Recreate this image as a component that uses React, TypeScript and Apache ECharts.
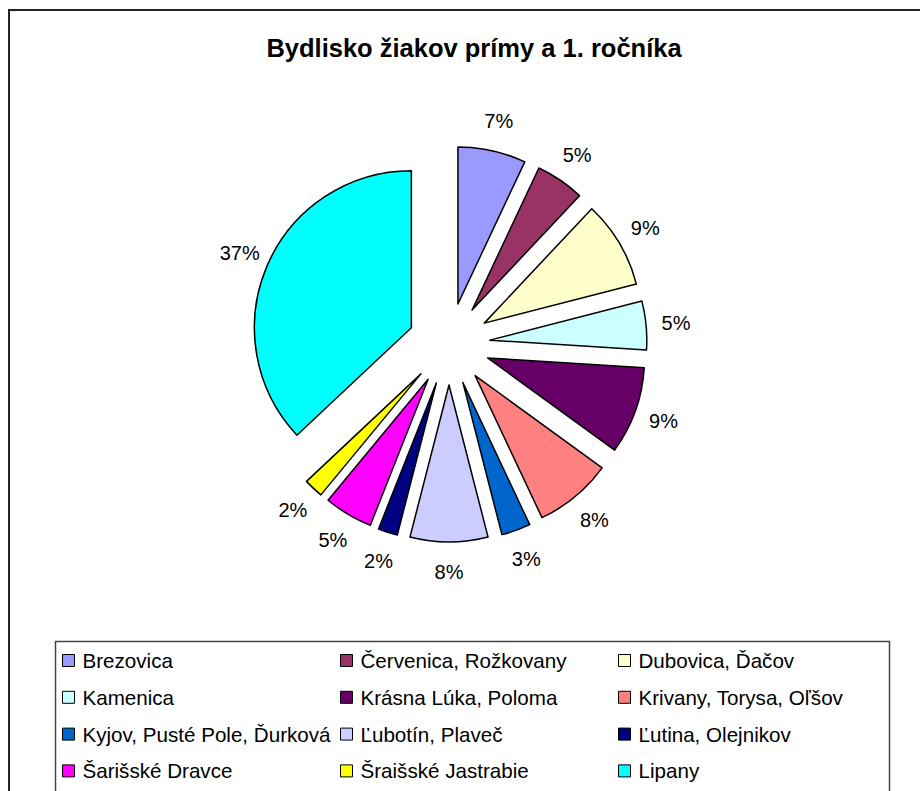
import React, { useEffect, useRef } from 'react';
import * as echarts from 'echarts';

const chartTitle = 'Bydlisko žiakov prímy a 1. ročníka';
const categories = [
  'Brezovica',
  'Červenica, Rožkovany',
  'Dubovica, Ďačov',
  'Kamenica',
  'Krásna Lúka, Poloma',
  'Krivany, Torysa, Oľšov',
  'Kyjov, Pusté Pole, Ďurková',
  'Ľubotín, Plaveč',
  'Ľutina, Olejnikov',
  'Šarišské Dravce',
  'Šraišské Jastrabie',
  'Lipany',
];
const shares = [7, 5, 9, 5, 9, 8, 3, 8, 2, 5, 2, 37];
const colors = [
  '#9999FF', '#993366', '#FFFFCC', '#CCFFFF', '#660066', '#FF8080',
  '#0066CC', '#CCCCFF', '#000080', '#FF00FF', '#FFFF00', '#00FFFF',
];
const legendColumns = [
  [0, 3, 6, 9],
  [1, 4, 7, 10],
  [2, 5, 8, 11],
];

const FONT = '"Liberation Sans", Arial, sans-serif';

export default function App() {
  const ref = useRef<HTMLDivElement>(null);
  useEffect(() => {
    if (!ref.current) return;
    const chart = echarts.init(ref.current, null, { renderer: 'svg' });
    const center = [449, 344];
    const legendLefts = [62, 340, 618];
    const option: any = {
      animation: false,
      backgroundColor: '#fff',
      title: {
        text: chartTitle,
        left: 469,
        top: 30,
        textAlign: 'center',
        textStyle: { fontFamily: FONT, fontWeight: 'bold', fontSize: 25.5, color: '#000' },
      },
      legend: legendColumns.map((col, ci) => ({
        orient: 'vertical',
        left: legendLefts[ci],
        top: 650,
        padding: 0,
        itemGap: 15.8,
        itemWidth: 12,
        itemHeight: 12,
        icon: 'rect',
        selectedMode: false,
        data: col.map((i) => categories[i]),
        itemStyle: { borderColor: '#000', borderWidth: 1 },
        textStyle: {
          fontFamily: FONT,
          fontSize: 20.6,
          lineHeight: 20,
          color: '#000',
          padding: [0, 0, 0, 3],
        },
      })),
      graphic: [
        {
          type: 'rect',
          shape: { x: 9, y: 10, width: 940, height: 800 },
          style: { fill: 'none', stroke: '#222', lineWidth: 2 },
          silent: true,
        },
        {
          type: 'rect',
          shape: { x: 55.5, y: 641.5, width: 834, height: 200 },
          style: { fill: 'none', stroke: '#444', lineWidth: 1.5 },
          silent: true,
        },
      ],
      series: [
        {
          type: 'pie',
          center,
          radius: 157,
          startAngle: 90,
          clockwise: true,
          selectedMode: 'multiple',
          selectedOffset: 41,
          label: { show: false },
          labelLine: { show: false },
          emphasis: { disabled: true },
          itemStyle: { borderColor: '#000', borderWidth: 1.5 },
          select: { itemStyle: { borderColor: '#000', borderWidth: 1.5 } },
          data: categories.map((name, i) => ({
            name,
            value: shares[i],
            selected: true,
            itemStyle: { color: colors[i] },
          })),
        },
        {
          type: 'pie',
          center,
          radius: [205, 245],
          startAngle: 90,
          clockwise: true,
          silent: true,
          emphasis: { disabled: true },
          itemStyle: { color: 'rgba(0,0,0,0)', borderWidth: 0 },
          labelLine: { show: false },
          label: {
            show: true,
            position: 'inside',
            rotate: 0,
            fontFamily: FONT,
            fontSize: 20,
            color: '#000',
            formatter: (p: any) => `${Math.round(p.percent)}%`,
          },
          data: categories.map((name, i) => ({ name, value: shares[i] })),
        },
      ],
    };
    chart.setOption(option);
    return () => chart.dispose();
  }, []);
  return (
    <div
      ref={ref}
      style={{ position: 'absolute', left: 0, top: 0, width: 920, height: 791 }}
    />
  );
}
